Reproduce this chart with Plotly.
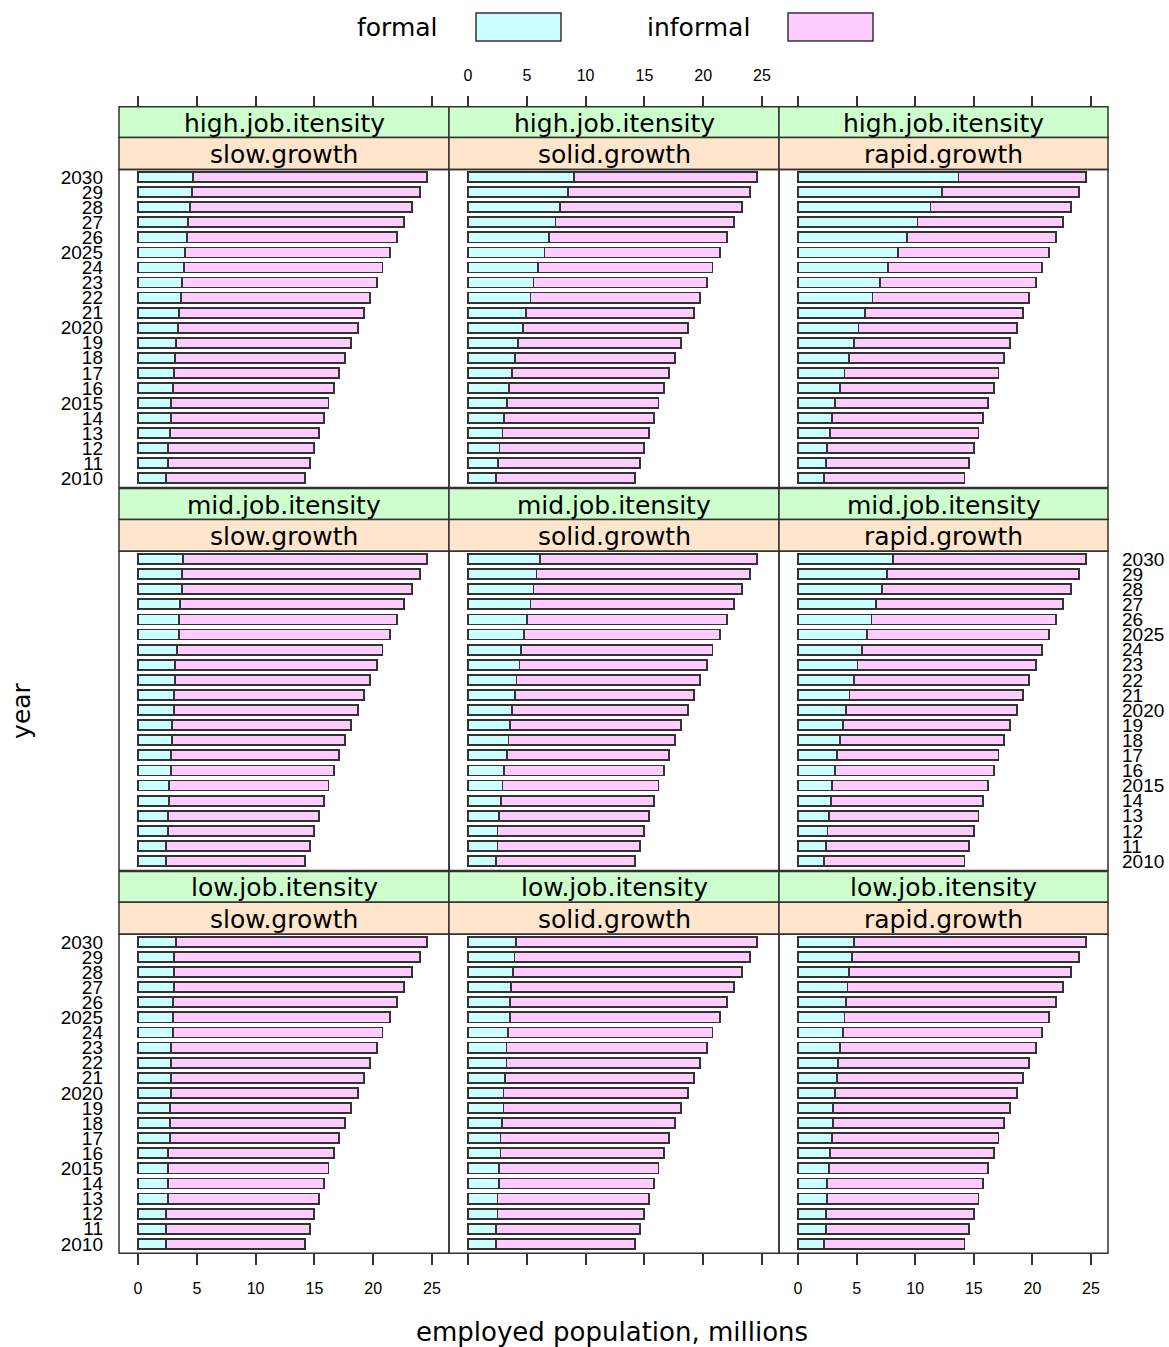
import plotly.graph_objects as go

W, H = 1169, 1347

years = list(range(2010, 2031))
year_labels = ["2010", "11", "12", "13", "14", "2015", "16", "17", "18", "19",
               "2020", "21", "22", "23", "24", "2025", "26", "27", "28", "29", "2030"]

intensity = ["high.job.itensity", "mid.job.itensity", "low.job.itensity"]
growth = ["slow.growth", "solid.growth", "rapid.growth"]

# total employed population (same in every panel), 2010..2030
total = [14.2, 14.6, 15.0, 15.4, 15.8, 16.2, 16.7, 17.1, 17.6, 18.1, 18.7,
         19.2, 19.7, 20.3, 20.8, 21.4, 22.0, 22.6, 23.3, 24.0, 24.6]

# formal employment, 2010..2030
formal_high_slow = [2.41, 2.55, 2.55, 2.69, 2.83, 2.83, 2.97, 3.09, 3.12, 3.23, 3.37,
                    3.48, 3.63, 3.74, 3.88, 4.02, 4.14, 4.28, 4.39, 4.56, 4.67]
formal_high_solid = [2.39, 2.53, 2.67, 2.93, 3.07, 3.32, 3.47, 3.72, 3.98, 4.26, 4.66,
                     4.91, 5.31, 5.57, 5.97, 6.5, 6.9, 7.44, 7.84, 8.47, 9.03]
formal_high_rapid = [2.22, 2.36, 2.48, 2.76, 2.9, 3.16, 3.56, 3.96, 4.36, 4.76, 5.16,
                     5.7, 6.35, 7.0, 7.7, 8.5, 9.3, 10.2, 11.3, 12.3, 13.7]
formal_mid_slow = [2.41, 2.41, 2.52, 2.52, 2.66, 2.66, 2.78, 2.78, 2.92, 2.92, 3.06,
                   3.06, 3.17, 3.17, 3.31, 3.46, 3.46, 3.57, 3.71, 3.71, 3.82]
formal_mid_solid = [2.39, 2.5, 2.5, 2.64, 2.78, 2.93, 3.04, 3.32, 3.44, 3.58, 3.72,
                    3.98, 4.12, 4.38, 4.52, 4.77, 5.03, 5.31, 5.57, 5.82, 6.1]
formal_mid_rapid = [2.25, 2.39, 2.51, 2.65, 2.79, 2.93, 3.19, 3.33, 3.59, 3.87, 4.13,
                    4.39, 4.79, 5.07, 5.47, 5.87, 6.27, 6.67, 7.2, 7.58, 8.1]
formal_low_slow = [2.41, 2.41, 2.41, 2.55, 2.55, 2.55, 2.55, 2.69, 2.69, 2.69, 2.83,
                   2.83, 2.83, 2.83, 2.95, 2.95, 2.95, 3.09, 3.09, 3.09, 3.23]
formal_low_solid = [2.36, 2.36, 2.5, 2.5, 2.62, 2.62, 2.76, 2.76, 2.87, 3.01, 3.01,
                    3.15, 3.27, 3.27, 3.41, 3.55, 3.55, 3.67, 3.81, 3.95, 4.1]
formal_low_rapid = [2.22, 2.36, 2.36, 2.5, 2.5, 2.65, 2.76, 2.9, 3.02, 3.02, 3.16,
                    3.3, 3.42, 3.56, 3.85, 3.96, 4.1, 4.22, 4.36, 4.64, 4.79]

formal = [
    [formal_high_slow, formal_high_solid, formal_high_rapid],
    [formal_mid_slow, formal_mid_solid, formal_mid_rapid],
    [formal_low_slow, formal_low_solid, formal_low_rapid],
]

x_ticks = [0, 5, 10, 15, 20, 25]

C_FORMAL = "#CCFFFF"
C_INFORMAL = "#FFCCFF"
C_GREEN = "#CCFFCC"
C_ORANGE = "#FFE5CC"
LINE = "#333333"
FONT = "Liberation Sans, Arial, sans-serif"
FONT_W = "DejaVu Sans, Verdana, sans-serif"

# geometry (pixels)
col_x = [(119, 449), (449, 779), (779, 1108)]
row_plot = [(167, 486), (550, 870), (934, 1254)]
row_strip = [(104, 135, 167), (487, 518, 550), (871, 902, 934)]

def px(x):
    return x / W

def py(y):
    return 1 - y / H

fig = go.Figure()
layout = {}
shapes = []
annotations = []

for r in range(3):
    for c in range(3):
        k = r * 3 + c + 1
        xa = "x" if k == 1 else f"x{k}"
        ya = "y" if k == 1 else f"y{k}"
        f = formal[r][c]
        inf = [t - v for t, v in zip(total, f)]
        fig.add_trace(go.Bar(x=f, y=years, orientation="h", width=0.667,
                             marker=dict(color=C_FORMAL, line=dict(color=LINE, width=1.8)),
                             xaxis=xa, yaxis=ya, showlegend=False, name="formal"))
        fig.add_trace(go.Bar(x=inf, y=years, base=f, orientation="h", width=0.667,
                             marker=dict(color=C_INFORMAL, line=dict(color=LINE, width=1.8)),
                             xaxis=xa, yaxis=ya, showlegend=False, name="informal"))

        x0, x1 = col_x[c]
        y0, y1 = row_plot[r]
        xkey = "xaxis" if k == 1 else f"xaxis{k}"
        ykey = "yaxis" if k == 1 else f"yaxis{k}"
        xd = dict(domain=[px(x0), px(x1)], range=[-1.62, 26.45], tickvals=x_ticks,
                  showgrid=False, zeroline=False, showline=False,
                  tickfont=dict(family=FONT, size=16, color="black"))
        if r == 0:
            xd.update(anchor="free", position=py(104), side="top", ticks="outside",
                      ticklen=11, tickwidth=1.5, tickcolor=LINE,
                      showticklabels=(c == 1), ticklabelstandoff=8)
        elif r == 2:
            xd.update(anchor=ya, side="bottom", ticks="outside", ticklen=11,
                      tickwidth=1.5, tickcolor=LINE, showticklabels=(c != 1),
                      ticklabelstandoff=10)
        else:
            xd.update(anchor=ya, ticks="", showticklabels=False)
        layout[xkey] = xd

        yd = dict(domain=[py(y1), py(y0)], range=[2009.38, 2030.51], anchor=xa,
                  tickmode="array", tickvals=years, ticktext=year_labels,
                  showgrid=False, zeroline=False, showline=False, ticks="",
                  tickfont=dict(family=FONT, size=19, color="black"))
        if (r in (0, 2) and c == 0):
            yd.update(showticklabels=True, side="left", ticklabelstandoff=15)
        elif r == 1 and c == 2:
            yd.update(showticklabels=True, side="right", ticklabelstandoff=13)
        else:
            yd.update(showticklabels=False)
        layout[ykey] = yd

        # panel frame
        shapes.append(dict(type="rect", xref="paper", yref="paper",
                           x0=px(x0), x1=px(x1), y0=py(y1), y1=py(y0),
                           line=dict(color=LINE, width=1.5), fillcolor="rgba(0,0,0,0)",
                           layer="above"))
        s0, s1, s2 = row_strip[r]
        shapes.append(dict(type="rect", xref="paper", yref="paper",
                           x0=px(x0), x1=px(x1), y0=py(s1), y1=py(s0),
                           line=dict(color=LINE, width=1.5), fillcolor=C_GREEN, layer="below"))
        shapes.append(dict(type="rect", xref="paper", yref="paper",
                           x0=px(x0), x1=px(x1), y0=py(s2), y1=py(s1),
                           line=dict(color=LINE, width=1.5), fillcolor=C_ORANGE, layer="below"))
        annotations.append(dict(text=intensity[r], xref="paper", yref="paper",
                                x=px((x0 + x1) / 2), y=py((s0 + s1) / 2 + 1),
                                showarrow=False, xanchor="center", yanchor="middle",
                                font=dict(family=FONT_W, size=25, color="black")))
        annotations.append(dict(text=growth[c], xref="paper", yref="paper",
                                x=px((x0 + x1) / 2), y=py((s1 + s2) / 2 + 1),
                                showarrow=False, xanchor="center", yanchor="middle",
                                font=dict(family=FONT_W, size=25, color="black")))

# legend (drawn key)
for label, color, tx, bx0, bx1 in [("formal", C_FORMAL, 440, 476, 561),
                                    ("informal", C_INFORMAL, 752, 788, 873)]:
    shapes.append(dict(type="rect", xref="paper", yref="paper",
                       x0=px(bx0), x1=px(bx1), y0=py(38), y1=py(10),
                       line=dict(color=LINE, width=1.5), fillcolor=color))
    annotations.append(dict(text=label, xref="paper", yref="paper", x=px(tx), y=py(25),
                            showarrow=False, xanchor="right", yanchor="middle",
                            font=dict(family=FONT_W, size=25, color="black")))

annotations.append(dict(text="employed population, millions", xref="paper", yref="paper",
                        x=px(612), y=py(1333), showarrow=False, xanchor="center",
                        yanchor="middle", font=dict(family=FONT_W, size=26, color="black")))
annotations.append(dict(text="year", xref="paper", yref="paper", x=px(22), y=py(710),
                        showarrow=False, xanchor="center", yanchor="middle", textangle=-90,
                        font=dict(family=FONT_W, size=25, color="black")))

fig.update_layout(width=W, height=H, margin=dict(l=0, r=0, t=0, b=0),
                  paper_bgcolor="white", plot_bgcolor="white", barmode="stack",
                  showlegend=False, shapes=shapes, annotations=annotations, **layout)

fig.write_html("out.html", config={"displayModeBar": False},
               post_script="document.body.style.margin='0';document.body.style.overflow='hidden';")
